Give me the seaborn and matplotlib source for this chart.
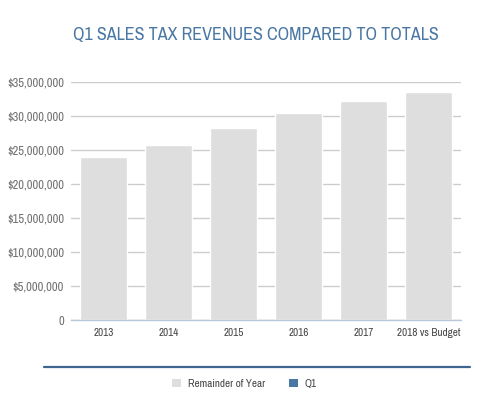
import matplotlib
matplotlib.use("Agg")
import matplotlib.pyplot as plt
from matplotlib import font_manager
from matplotlib.lines import Line2D
from matplotlib.patches import Patch
from matplotlib.ticker import FuncFormatter
import pandas as pd
import seaborn as sns

years = ["2013", "2014", "2015", "2016", "2017", "2018 vs Budget"]
remainder = [23_900_000, 25_800_000, 28_200_000, 30_500_000, 32_200_000, 33_600_000]
q1 = [0, 0, 0, 0, 0, 0]

GRAY = "#dedede"
BLUE = "#4a78a4"
TITLE_BLUE = "#4a77a3"

# pick a narrow face if one is installed
installed = {(f.name, f.stretch) for f in font_manager.fontManager.ttflist}
names = {f.name for f in font_manager.fontManager.ttflist}
narrow = [n for n in sorted(names) if "Condensed" in n or "Narrow" in n]
condensed_stretch = [n for (n, s) in installed if s in ("condensed", "semi-condensed", 500) and n in ("Roboto", "DejaVu Sans", "Open Sans", "Noto Sans")]
if narrow:
    FONT = [narrow[0], "DejaVu Sans"]
    STRETCH = "normal"
elif condensed_stretch:
    FONT = [condensed_stretch[0], "DejaVu Sans"]
    STRETCH = "condensed"
else:
    FONT = ["DejaVu Sans"]
    STRETCH = "normal"

sns.set_theme(style="white")
plt.rcParams["font.family"] = FONT
plt.rcParams["font.stretch"] = STRETCH

df = pd.DataFrame({"year": years, "remainder": remainder, "q1": q1})
df["total"] = df["remainder"] + df["q1"]

fig = plt.figure(figsize=(5.04, 4.12), dpi=100)
ax = fig.add_axes([0.1409, 0.2233, 0.7738, 0.5777])

sns.barplot(data=df, x="year", y="total", color=GRAY, width=0.72, saturation=1, ax=ax, zorder=2)
sns.barplot(data=df, x="year", y="q1", color=BLUE, width=0.72, saturation=1, ax=ax, zorder=3)

ax.set_ylim(0, 35_000_000)
ax.set_yticks(range(0, 35_000_001, 5_000_000))
ax.yaxis.set_major_formatter(FuncFormatter(lambda v, _: "0" if v == 0 else f"${v:,.0f}"))
ax.grid(axis="y", color="#cccccc", linewidth=1, zorder=0)
ax.set_axisbelow(True)
for side in ["top", "right", "left"]:
    ax.spines[side].set_visible(False)
ax.spines["bottom"].set_color("#b9c9d9")
ax.spines["bottom"].set_linewidth(1)
ax.spines["bottom"].set_zorder(4)
ax.tick_params(axis="y", length=0, pad=5, labelsize=9, labelcolor="#707070")
ax.tick_params(axis="x", length=0, pad=6, labelsize=8, labelcolor="#444444")
ax.set_xlabel("")
ax.set_ylabel("")

fig.text(0.508, 0.915, "Q1 SALES TAX REVENUES COMPARED TO TOTALS", ha="center", va="center",
         fontsize=13, color=TITLE_BLUE, family=FONT)

fig.add_artist(Line2D([0.087, 0.933], [0.109, 0.109], color="#3d6590", linewidth=1.6))

handles = [Patch(facecolor=GRAY, edgecolor="none", label="Remainder of Year"),
           Patch(facecolor=BLUE, edgecolor="none", label="Q1")]
fig.legend(handles=handles, loc="center", bbox_to_anchor=(0.485, 0.068), ncol=2, frameon=False,
           fontsize=8, handlelength=0.8, handleheight=0.8, columnspacing=2.2, handletextpad=0.6,
           labelcolor="#444444")

fig.savefig("out.png", dpi=100)
